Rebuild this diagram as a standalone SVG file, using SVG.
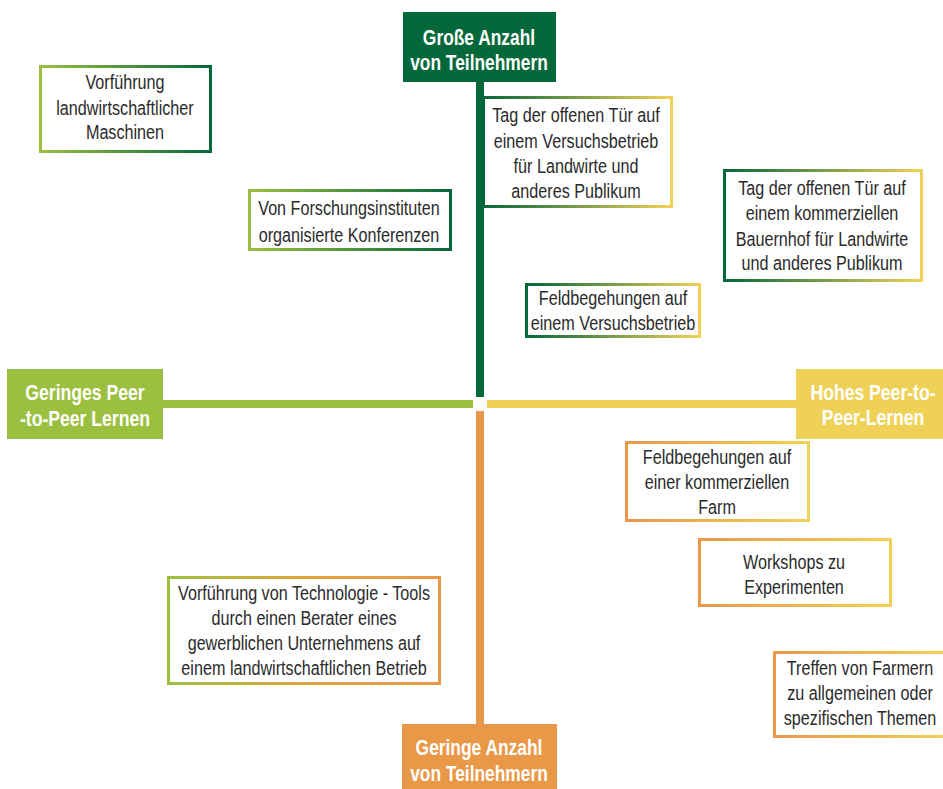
<svg xmlns="http://www.w3.org/2000/svg" width="943" height="789" viewBox="0 0 943 789">
<defs>
<linearGradient id="gLD" x1="0" y1="0" x2="1" y2="0"><stop offset="0" stop-color="#9BC03F"/><stop offset="1" stop-color="#04683A"/></linearGradient>
<linearGradient id="gDY" x1="0" y1="0" x2="1" y2="0"><stop offset="0" stop-color="#04683A"/><stop offset="1" stop-color="#F0D158"/></linearGradient>
<linearGradient id="gOY" x1="0" y1="0" x2="1" y2="0"><stop offset="0" stop-color="#E99848"/><stop offset="1" stop-color="#F0D158"/></linearGradient>
<linearGradient id="gLO" x1="0" y1="0" x2="1" y2="0"><stop offset="0" stop-color="#9BC03F"/><stop offset="0.5" stop-color="#E0A53F"/><stop offset="1" stop-color="#E99848"/></linearGradient>
<style>
.t{font-family:"Liberation Sans",Arial,sans-serif;font-size:21px;fill:#2b2b2b;text-anchor:middle}
.h{font-family:"Liberation Sans",Arial,sans-serif;font-size:22px;font-weight:bold;fill:#ffffff;text-anchor:middle}
.b{fill:#ffffff;stroke-width:3}
</style>
</defs>
<g id="connectors">
<rect x="476" y="82" width="8" height="315" fill="#04683A"/>
<rect x="476" y="411" width="8" height="313" fill="#E99848"/>
<rect x="163" y="400" width="310" height="8" fill="#9BC03F"/>
<rect x="487" y="400" width="310" height="8" fill="#F0D158"/>
</g>
<g id="hdr-top"><rect x="403" y="12" width="153" height="70" fill="#04683A"/>
<g transform="matrix(0.79,0,0,1,479,0)"><text class="h" x="0" y="45">Große Anzahl</text><text class="h" x="0" y="70">von Teilnehmern</text></g></g>
<g id="hdr-bottom"><rect x="402" y="724" width="155" height="65" fill="#E99848"/>
<g transform="matrix(0.79,0,0,1,479,0)"><text class="h" x="0" y="755">Geringe Anzahl</text><text class="h" x="0" y="781">von Teilnehmern</text></g></g>
<g id="hdr-left"><rect x="7" y="369" width="156" height="70" fill="#9BC03F"/>
<g transform="matrix(0.8,0,0,1,85,0)"><text class="h" x="0" y="400">Geringes Peer</text><text class="h" x="0" y="426">-to-Peer Lernen</text></g></g>
<g id="hdr-right"><rect x="796" y="369" width="150" height="70" fill="#F0D158"/>
<g transform="matrix(0.8,0,0,1,873,0)"><text class="h" x="0" y="400">Hohes Peer-to-</text><text class="h" x="0" y="425">Peer-Lernen</text></g></g>
<g id="n1"><rect class="b" x="40.5" y="66.5" width="170" height="85" stroke="url(#gLD)"/>
<g transform="matrix(0.77,0,0,1,125,0)"><text class="t" x="0" y="89">Vorführung</text><text class="t" x="0" y="115">landwirtschaftlicher</text><text class="t" x="0" y="139">Maschinen</text></g></g>
<g id="n2"><rect class="b" x="249.5" y="190.5" width="201" height="59" stroke="url(#gLD)"/>
<g transform="matrix(0.77,0,0,1,349,0)"><text class="t" x="0" y="215">Von Forschungsinstituten</text><text class="t" x="0" y="242">organisierte Konferenzen</text></g></g>
<g id="n3"><rect class="b" x="483.5" y="97.5" width="188" height="109" stroke="url(#gDY)"/>
<g transform="matrix(0.77,0,0,1,576,0)"><text class="t" x="0" y="122">Tag der offenen Tür auf</text><text class="t" x="0" y="148">einem Versuchsbetrieb</text><text class="t" x="0" y="173">für Landwirte und</text><text class="t" x="0" y="198">anderes Publikum</text></g></g>
<g id="n4"><rect class="b" x="724.5" y="170.5" width="197" height="110" stroke="url(#gDY)"/>
<g transform="matrix(0.77,0,0,1,822,0)"><text class="t" x="0" y="195">Tag der offenen Tür auf</text><text class="t" x="0" y="220">einem kommerziellen</text><text class="t" x="0" y="246">Bauernhof für Landwirte</text><text class="t" x="0" y="270">und anderes Publikum</text></g></g>
<g id="n5"><rect class="b" x="526.5" y="284.5" width="173" height="52" stroke="url(#gDY)"/>
<g transform="matrix(0.77,0,0,1,613,0)"><text class="t" x="0" y="305">Feldbegehungen auf</text><text class="t" x="0" y="330">einem Versuchsbetrieb</text></g></g>
<g id="n6"><rect class="b" x="626.5" y="442.5" width="182" height="78" stroke="url(#gOY)"/>
<g transform="matrix(0.77,0,0,1,717,0)"><text class="t" x="0" y="464">Feldbegehungen auf</text><text class="t" x="0" y="489">einer kommerziellen</text><text class="t" x="0" y="514">Farm</text></g></g>
<g id="n7"><rect class="b" x="699.5" y="539.5" width="191" height="66" stroke="url(#gOY)"/>
<g transform="matrix(0.77,0,0,1,794,0)"><text class="t" x="0" y="569">Workshops zu</text><text class="t" x="0" y="594">Experimenten</text></g></g>
<g id="n8"><rect class="b" x="774.5" y="652.5" width="172" height="84" stroke="url(#gOY)"/>
<g transform="matrix(0.77,0,0,1,860,0)"><text class="t" x="0" y="675">Treffen von Farmern</text><text class="t" x="0" y="700">zu allgemeinen oder</text><text class="t" x="0" y="725">spezifischen Themen</text></g></g>
<g id="n9"><rect class="b" x="168.5" y="577.5" width="271" height="106" stroke="url(#gLO)"/>
<g transform="matrix(0.77,0,0,1,304,0)"><text class="t" x="0" y="600">Vorführung von Technologie - Tools</text><text class="t" x="0" y="625">durch einen Berater eines</text><text class="t" x="0" y="650">gewerblichen Unternehmens auf</text><text class="t" x="0" y="675">einem landwirtschaftlichen Betrieb</text></g></g>
</svg>
